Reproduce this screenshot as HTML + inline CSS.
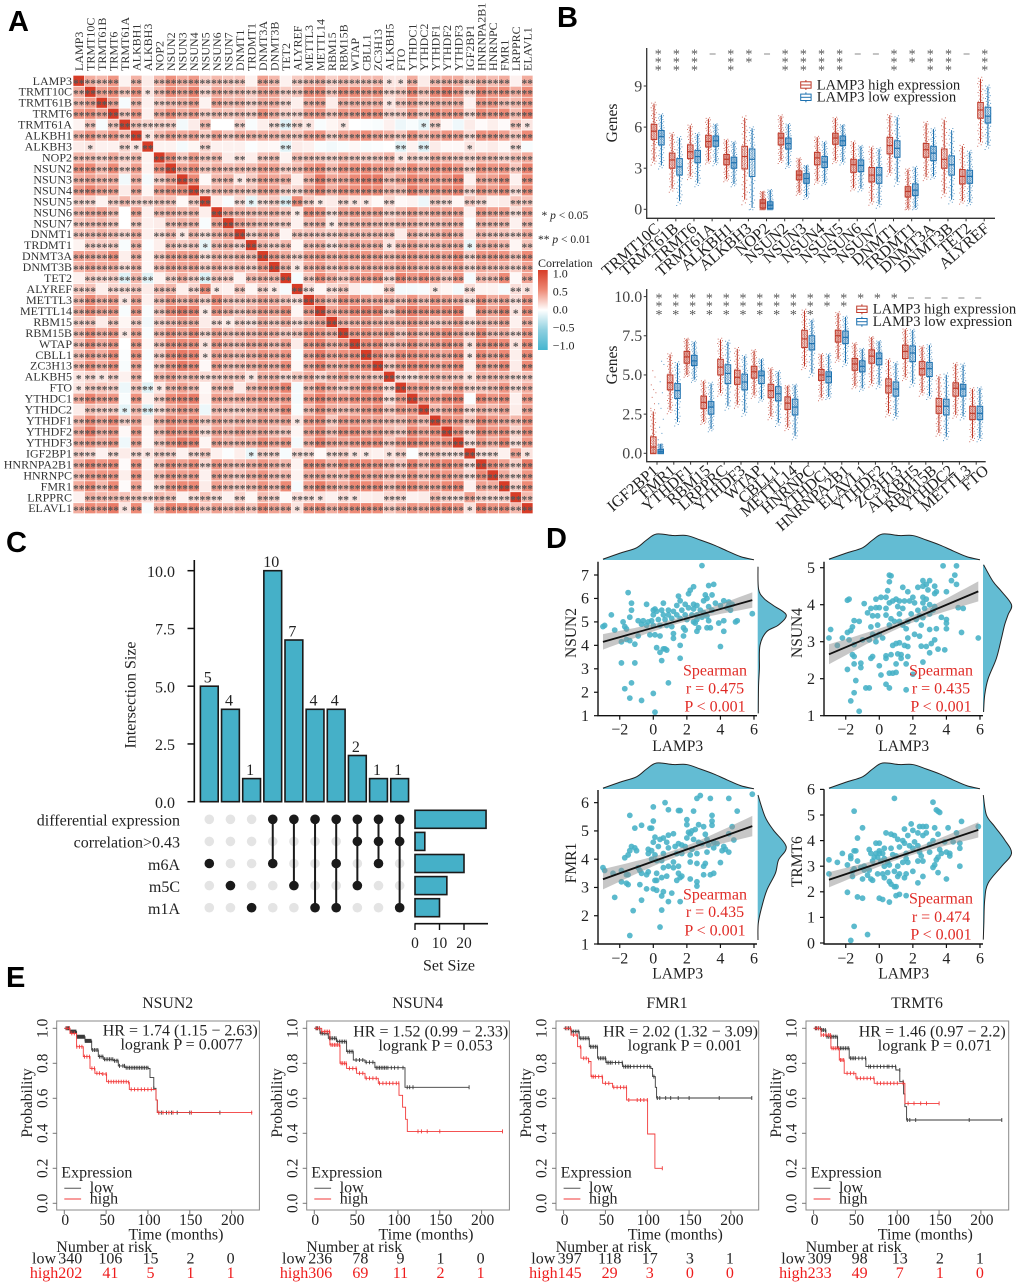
<!DOCTYPE html>
<html lang="en">
<head>
<meta charset="utf-8">
<title>LAMP3 correlation, expression, intersection, scatter and survival figure</title>
<style>
html,body{margin:0;padding:0;background:#fff}
svg{display:block;font-family:"Liberation Serif",serif;fill:#222}
.panel-letter{font-family:"Liberation Sans",sans-serif;font-weight:700;font-size:29px;fill:#000}
</style>
</head>
<body>
<svg id="fig" xmlns="http://www.w3.org/2000/svg" width="1020" height="1285" viewBox="0 0 1020 1285">
  <rect width="1020" height="1285" fill="#fff"/>
  <defs>
    <linearGradient id="corrGrad" x1="0" y1="0" x2="0" y2="1">
      <stop offset="0" stop-color="#d73c27"/><stop offset=".25" stop-color="#ee8a76"/>
      <stop offset=".5" stop-color="#ffffff"/><stop offset=".75" stop-color="#8fd0e0"/>
      <stop offset="1" stop-color="#45b5cf"/>
    </linearGradient>
  </defs>
  <text class="panel-letter" x="8" y="31">A</text>
  <text class="panel-letter" x="557" y="27">B</text>
  <text class="panel-letter" x="6" y="552">C</text>
  <text class="panel-letter" x="546" y="548">D</text>
  <text class="panel-letter" x="6" y="987">E</text>
  <g id="panelA"></g>
  <g id="panelB1"></g>
  <g id="panelB2"></g>
  <g id="panelC"></g>
  <g id="panelD"></g>
  <g id="panelE"></g>
</svg>

<script>
const NS = 'http://www.w3.org/2000/svg';
function add(parent, tag, attrs, txt) {
  const el = document.createElementNS(NS, tag);
  for (const k in attrs) el.setAttribute(k, attrs[k]);
  if (txt !== undefined) el.textContent = txt;
  parent.appendChild(el);
  return el;
}
function label(parent, x, yc, str, size, opts) {
  const o = opts || {};
  const a = {x: x, y: yc + 0.33 * size, 'font-size': size, 'text-anchor': o.anchor || 'middle'};
  if (o.fill) a.fill = o.fill;
  if (o.rot !== undefined) {
    a.x = 0; a.y = 0.33 * size;
    a.transform = 'translate(' + x + ',' + yc + ') rotate(' + o.rot + ')';
  }
  return add(parent, 'text', a, str);
}
function smoothPath(pts) {
  let d = '';
  for (let i = 0; i < pts.length - 1; i++) {
    const p0 = pts[Math.max(i - 1, 0)], p1 = pts[i], p2 = pts[i + 1], p3 = pts[Math.min(i + 2, pts.length - 1)];
    d += ' C' + (p1[0] + (p2[0] - p0[0]) / 6).toFixed(2) + ' ' + (p1[1] + (p2[1] - p0[1]) / 6).toFixed(2) + ' ' +
      (p2[0] - (p3[0] - p1[0]) / 6).toFixed(2) + ' ' + (p2[1] - (p3[1] - p1[1]) / 6).toFixed(2) + ' ' +
      p2[0].toFixed(2) + ' ' + p2[1].toFixed(2);
  }
  return d;
}
</script>

<script>
/* Panel A: correlation heatmap */
const corrGenes = ['LAMP3','TRMT10C','TRMT61B','TRMT6','TRMT61A','ALKBH1','ALKBH3','NOP2','NSUN2','NSUN3','NSUN4','NSUN5','NSUN6','NSUN7','DNMT1','TRDMT1','DNMT3A','DNMT3B','TET2','ALYREF','METTL3','METTL14','RBM15','RBM15B','WTAP','CBLL1','ZC3H13','ALKBH5','FTO','YTHDC1','YTHDC2','YTHDF1','YTHDF2','YTHDF3','IGF2BP1','HNRNPA2B1','HNRNPC','FMR1','LRPPRC','ELAVL1'];
/* lower triangle, correlation x 100, read by eye */
const corrLower = [
[100],
[35,100],
[30,42,100],
[45,50,40,100],
[5,25,-4,25,100],
[33,47,32,45,27,100],
[8,11,6,6,18,11,100],
[30,30,22,35,20,30,5,100],
[47,50,30,50,20,42,5,50,100],
[35,40,33,35,-6,35,-5,22,40,100],
[43,55,42,42,8,40,4,42,50,50,100],
[20,18,5,22,30,22,18,25,25,3,22,100],
[30,38,40,30,0,40,6,30,35,30,33,7,100],
[25,30,30,25,0,25,6,8,28,32,32,-3,40,100],
[25,30,32,28,18,35,6,15,30,10,30,15,33,40,100],
[5,22,20,22,-3,33,-2,7,28,22,25,-11,30,32,20,100],
[40,40,35,48,7,35,4,25,42,42,42,15,32,30,33,30,100],
[30,40,35,35,15,33,3,28,40,38,40,22,35,25,30,22,45,100],
[6,22,18,20,-15,30,-14,5,22,35,22,-16,25,22,5,30,35,32,100],
[22,25,7,18,16,25,8,28,30,7,18,50,9,6,25,4,20,10,-4,100],
[30,50,35,42,11,40,6,28,45,33,40,20,50,28,25,28,40,35,25,14,100],
[35,50,40,45,-3,45,-3,25,50,62,57,9,45,35,25,33,45,40,50,4,45,100],
[20,25,8,25,4,22,-6,20,30,38,35,8,15,9,20,14,35,25,35,15,30,40,100],
[30,50,35,45,10,40,-3,30,47,40,50,18,40,28,30,30,40,35,25,25,50,45,35,100],
[27,50,35,45,0,45,3,25,48,50,48,12,45,32,30,38,42,30,40,8,45,55,35,45,100],
[27,45,35,50,-2,48,-3,22,50,60,55,10,40,35,30,35,45,38,45,-3,40,60,40,47,50,100],
[30,48,35,48,-3,40,-2,25,45,60,50,3,42,30,30,35,42,35,48,3,38,58,35,40,50,55,100],
[11,18,11,20,6,33,0,30,40,30,33,15,22,25,25,11,32,32,18,22,35,20,30,40,28,32,25,100],
[11,25,25,22,-8,25,-14,10,32,40,30,3,30,30,8,30,40,40,55,-5,30,50,35,25,35,50,45,15,100],
[35,55,42,45,-3,47,5,22,50,55,60,5,42,35,35,40,45,40,45,-5,45,60,45,45,50,50,55,15,45,100],
[8,27,22,22,-12,30,-15,15,35,45,42,-8,30,25,22,28,38,30,50,-3,30,50,35,30,35,45,50,25,45,45,100],
[30,52,38,52,20,40,8,35,50,45,50,22,40,30,33,32,42,35,40,10,45,50,25,45,45,40,40,30,30,45,30,100],
[35,62,35,45,3,45,3,30,50,45,50,15,40,33,40,35,40,30,25,4,40,50,30,50,50,40,45,30,25,55,40,50,100],
[35,45,35,45,-7,40,3,25,45,60,55,4,40,33,33,35,50,40,45,-5,35,60,40,40,45,50,50,25,45,60,50,45,50,100],
[20,17,6,16,8,17,11,20,20,6,18,22,6,-2,7,-10,20,18,-4,15,15,3,15,20,12,9,6,12,20,-2,15,25,15,14,100],
[35,55,45,50,2,47,5,30,48,40,48,17,45,32,30,35,45,35,30,5,50,50,33,50,50,50,47,32,25,55,35,55,55,45,14,100],
[28,45,45,45,7,47,8,30,45,40,42,6,40,30,25,35,45,30,30,5,35,40,30,30,50,40,40,30,30,45,30,45,45,35,15,50,100],
[35,50,30,50,2,40,3,20,45,50,50,8,40,30,25,30,45,30,50,-4,40,58,40,35,50,50,52,30,45,50,40,40,50,55,6,40,35,100],
[6,35,30,30,25,25,15,28,25,6,15,25,15,6,18,4,28,20,3,14,14,11,6,14,12,7,8,16,16,6,8,30,20,15,40,20,18,20,100],
[35,50,45,60,11,50,-3,35,55,50,50,25,40,30,35,25,50,40,40,12,45,50,35,45,50,50,50,25,35,45,40,50,50,45,12,60,45,50,30,100]
];
const corrLegendTicks = [1, 0.5, 0, -0.5, -1];
const corrLegendLabels = ['1.0', '0.5', '0.0', '\u22120.5', '\u22121.0'];

(function () {
  const g = document.getElementById('panelA');
  const left = 73, top = 75.3, cw = 11.5, ch = 10.96;
  const mix = (a, b, t) => a.map((v, i) => Math.round(v + (b[i] - v) * t));
  function color(r) {
    const w = [255, 255, 255], p1 = [238, 138, 118], p2 = [215, 60, 39], n1 = [143, 208, 224], n2 = [69, 181, 207];
    const a = Math.abs(r);
    const c = r >= 0 ? (a < .5 ? mix(w, p1, a / .5) : mix(p1, p2, (a - .5) / .5))
                     : (a < .5 ? mix(w, n1, a / .5) : mix(n1, n2, (a - .5) / .5));
    return 'rgb(' + c.join(',') + ')';
  }
  const val = (i, j) => { const v = i >= j ? corrLower[i][j] : corrLower[j][i]; return (v === undefined ? 0 : v) / 100; };
  corrGenes.forEach((name, i) => {
    const rl = add(g, 'text', {x: left - 1, y: top + ch * i + ch / 2 + 4, 'font-size': 12, 'text-anchor': 'end', fill: '#333'}, name);
    
    
    const cl = add(g, 'text', {x: 0, y: 0, 'font-size': 12, fill: '#333', transform: 'translate(' + (left + cw * i + cw / 2 + 4) + ',71) rotate(-90)'}, name);
    
    
    corrGenes.forEach((n2, j) => {
      const r = val(i, j);
      const cell = add(g, 'rect', {x: left + cw * j + .35, y: top + ch * i + .35, width: cw - .7, height: ch - .7, fill: color(r)});
      
      
      const a = Math.abs(r);
      const stars = a >= .13 ? '**' : (a >= .09 ? '*' : '');
      if (stars) {
        const st = add(g, 'text', {x: left + cw * j + cw / 2, y: top + ch * i + ch / 2 + 6, 'font-size': 11.5, 'text-anchor': 'middle', fill: '#555', 'font-weight': 700}, stars);
        
        
      }
    });
  });
  const sigA = add(g, 'text', {x: 541.5, y: 219, 'font-size': 11.5});
  
  
  sigA.innerHTML = '* <tspan font-style="italic">p</tspan> &lt; 0.05';
  const sigB = add(g, 'text', {x: 538, y: 243, 'font-size': 11.5});
  
  
  sigB.innerHTML = '** <tspan font-style="italic">p</tspan> &lt; 0.01';
  const lt = add(g, 'text', {x: 538, y: 267, 'font-size': 12}, 'Correlation');
  
  
  const bar = add(g, 'rect', {x: 538, y: 270, width: 9.7, height: 80, fill: 'url(#corrGrad)'});
  
  
  corrLegendTicks.forEach((t, i) => {
    const y = 309.5 - t * 36;
    const l = add(g, 'text', {x: 552.7, y: y + 4, 'font-size': 12}, corrLegendLabels[i]);
    
    
  });
})();
</script>

<script>
/* Panel B: box plots. Each row is [lower whisker, q1, median, q3, upper whisker], read by eye. */
const boxGenesTop = ['TRMT10C','TRMT61B','TRMT6','TRMT61A','ALKBH1','ALKBH3','NOP2','NSUN2','NSUN3','NSUN4','NSUN5','NSUN6','NSUN7','DNMT1','TRDMT1','DNMT3A','DNMT3B','TET2','ALYREF'];
const boxSigTop = [3,3,3,0,3,2,0,3,3,3,3,0,0,3,2,3,3,0,3];
const boxHighTop = [[3.5,5.1,5.7,6.2,7.7],[1.5,3.0,3.6,4.1,5.5],[2.4,3.7,4.2,4.7,6.1],[3.5,4.55,4.95,5.4,6.6],[2.2,3.25,3.65,4.0,5.05],[.7,2.95,3.85,4.6,6.65],[0,.1,.45,.7,1.3],[3.55,4.7,5.2,5.55,6.8],[1.2,2.15,2.5,2.8,3.7],[2.05,3.25,3.75,4.15,5.25],[3.55,4.75,5.2,5.55,6.65],[1.55,2.7,3.25,3.65,4.9],[.55,2.0,2.5,3.05,4.5],[2.65,4.05,4.65,5.25,6.85],[.05,.9,1.3,1.65,2.9],[2.35,3.8,4.35,4.8,6.3],[1.15,3.0,3.65,4.4,6.5],[.6,1.85,2.4,2.9,4.6],[4.9,6.65,7.25,7.8,9.5]];
const boxLowTop = [[3.2,4.7,5.3,5.75,6.9],[.6,2.5,3.1,3.7,5.2],[1.9,3.4,3.85,4.3,5.5],[3.4,4.6,5.0,5.35,6.2],[1.85,3.0,3.4,3.8,4.9],[.1,2.4,3.65,4.4,5.9],[0,.05,.3,.55,1.4],[3.2,4.4,4.8,5.2,6.2],[.9,1.9,2.25,2.6,3.2],[1.95,3.05,3.45,3.85,4.9],[3.45,4.65,5.0,5.35,6.15],[1.5,2.75,3.2,3.6,4.6],[.35,1.9,2.5,3.05,4.4],[2.0,3.8,4.45,5.0,6.7],[.1,1.0,1.4,1.85,3.05],[2.4,3.55,4.1,4.6,5.85],[.7,2.5,3.25,3.9,5.75],[.5,1.9,2.4,2.85,4.2],[4.65,6.3,6.8,7.45,8.95]];
const boxTicksTop = [0,3,6,9];
const boxTickLabelsTop = ['0','3','6','9'];

const boxGenesBottom = ['IGF2BP1','FMR1','YTHDF1','RBM15','LRPPRC','YTHDF3','WTAP','CBLL1','METTL14','HNRNPC','YTHDC1','HNRNPA2B1','ELAVL1','YTHDF2','ZC3H13','ALKBH5','RBM15B','YTHDC2','METTL3','FTO'];
const boxSigBottom = [3,3,3,3,3,3,3,3,3,3,2,2,1,1,1,0,0,0,0,0];
const boxHighBottom = [[0,0,.4,1.05,2.65],[2.75,4.05,4.5,5.0,6.3],[5,5.75,6.15,6.5,7.3],[2.0,2.85,3.25,3.65,4.6],[3.85,5.0,5.5,6.0,7.25],[3.1,4.4,4.85,5.3,6.65],[3.7,4.8,5.2,5.55,6.55],[2.35,3.55,4.0,4.4,5.4],[1.65,2.8,3.2,3.6,4.3],[5.55,6.75,7.3,7.85,9.1],[3.55,4.65,5.0,5.35,6.3],[6.0,7.1,7.5,7.85,8.95],[4.3,5.3,5.7,6.05,7],[4.45,5.75,6.2,6.6,7.4],[2.55,3.85,4.3,4.75,5.95],[4.85,6.05,6.5,6.9,7.9],[3.85,5.0,5.4,5.85,6.8],[1.3,2.55,3.0,3.5,4.9],[2.45,3.65,4.15,4.5,5.7],[.95,2.15,2.55,3.0,4.1]];
const boxLowBottom = [[0,0,.1,.25,.6],[2.0,3.5,4.0,4.45,5.75],[4.7,5.6,5.9,6.25,7.1],[1.55,2.5,2.95,3.3,4.45],[3.0,4.45,5.1,5.65,7.1],[2.6,4.05,4.55,5.05,6.2],[3.45,4.45,4.95,5.25,6.0],[1.95,3.35,3.8,4.25,5.2],[1.1,2.45,2.95,3.45,4.35],[5.1,6.6,7.0,7.5,8.5],[3.6,4.5,4.9,5.2,6.3],[5.75,7.0,7.4,7.8,8.7],[4.15,5.2,5.55,5.9,6.65],[4.35,5.65,6.05,6.4,7.15],[2.35,3.65,4.1,4.55,5.75],[4.45,5.85,6.4,6.85,7.85],[3.65,4.9,5.4,5.8,6.9],[1.05,2.45,3.0,3.45,5.0],[2.35,3.65,4.1,4.4,5.65],[.95,2.15,2.55,3.0,4.15]];
const boxTicksBottom = [0,2.5,5,7.5,10];
const boxTickLabelsBottom = ['0.0','2.5','5.0','7.5','10.0'];
/* individually visible far-out samples for the first bottom gene */
const igfOutliersHigh = [2.9,3.2,3.6,3.9,4.1,4.4,4.9,5.3];
const igfOutliersLow = [.9,1.3,1.7,2.2,2.9,3.2,3.9,4.6,5.7,5.9];

function drawBoxPanel(g, c) {
  const yS = v => c.y0 - c.k * v;
  const xS = i => c.x0 + c.dx * i;
  const colors = ['#bf3b2b', '#1f72b0'];
  const ax = add(g, 'path', {d: 'M' + c.axisX + ' ' + c.axisTop + ' V' + c.axisY + ' H' + c.axisRight, fill: 'none', stroke: '#333', 'stroke-width': 1.3});
  
  
  c.ticks.forEach((t, i) => {
    const tk = add(g, 'line', {x1: c.axisX - 3, x2: c.axisX, y1: yS(t), y2: yS(t), stroke: '#333'});
    
    
    const tl = label(g, c.axisX - 4.5, yS(t), c.tickLabels[i], 16, {anchor: 'end', fill: '#444'});
    
    
  });
  const yt = label(g, 611.7, c.titleY, 'Genes', 15.5, {rot: -90});
  
  
  c.genes.forEach((name, i) => {
    const x = xS(i);
    const tk = add(g, 'line', {x1: x, x2: x, y1: c.axisY, y2: c.axisY + 3, stroke: '#333'});
    
    
    const lx = c.labelX0 + c.labelDx * i;
    const tl = add(g, 'text', {x: 0, y: 0, 'font-size': 16, 'text-anchor': 'end', fill: '#222', transform: 'translate(' + lx + ',' + c.labelY + ') rotate(-41)'}, name);
    
    
    const n = c.sig[i];
    if (n === 0) {
      const dash = add(g, 'line', {x1: x + c.sigOff - 3, x2: x + c.sigOff + 3, y1: c.sigY[0] + 2, y2: c.sigY[0] + 2, stroke: '#888', 'stroke-width': 1});
      
      
    }
    for (let s = 0; s < n; s++) {
      const st = add(g, 'text', {x: x + c.sigOff, y: c.sigY[s] + 6.5, 'font-size': 14, 'text-anchor': 'middle', fill: '#555'}, '*');
      
      
    }
    [c.high[i], c.low[i]].forEach((st, gi) => {
      const bx = x + (gi === 0 ? -3.7 : 3.7);
      const col = colors[gi];
      const [lo, q1, med, q3, hi] = st;
      const whisk = add(g, 'line', {x1: bx, x2: bx, y1: yS(lo), y2: yS(hi), stroke: col, 'stroke-width': 1});
      
      
      const box = add(g, 'rect', {x: bx - 2.8, y: yS(q3), width: 5.6, height: Math.max(.5, yS(q1) - yS(q3)), fill: '#fff', 'fill-opacity': .55, stroke: col, 'stroke-width': 1});
      
      
      const medL = add(g, 'line', {x1: bx - 2.8, x2: bx + 2.8, y1: yS(med), y2: yS(med), stroke: col, 'stroke-width': 1.2});
      
      
      /* Sample cloud: visual texture spread evenly between the box statistics. It is not
         per-sample data, since individual samples cannot be read from the picture. */
      const N = 96, stops = [lo - (q1 - lo) * .18, lo, q1, med, q3, hi, hi + (hi - q3) * .12], ps = [0, .03, .25, .5, .75, .97, 1];
      let d = '';
      for (let k = 0; k < N; k++) {
        const p = (k + .5) / N;
        let m = 0;
        while (m < ps.length - 2 && p > ps[m + 1]) m++;
        const v = Math.max(0, stops[m] + (stops[m + 1] - stops[m]) * (p - ps[m]) / (ps[m + 1] - ps[m]));
        const jit = ((k * .618034) % 1 - .5) * 5.6;
        d += 'M' + (bx + jit - .5).toFixed(1) + ' ' + yS(v).toFixed(1) + 'h1v1h-1z';
      }
      if (i === 0 && c.outliers) c.outliers[gi].forEach((v, k) => {
        d += 'M' + (bx + ((k * .618034) % 1 - .5) * 6).toFixed(1) + ' ' + yS(v).toFixed(1) + 'h1v1h-1z';
      });
      const cloud = add(g, 'path', {d: d, fill: col, 'fill-opacity': .72});
      
      
    });
  });
  ['LAMP3 high expression', 'LAMP3 low expression'].forEach((t, i) => {
    const ky = c.legendY[i], col = colors[i];
    const key = add(g, 'g', {});
    
    
    add(key, 'line', {x1: c.legendX + 5.2, x2: c.legendX + 5.2, y1: ky - 5, y2: ky + 5, stroke: col});
    add(key, 'rect', {x: c.legendX, y: ky - 3.2, width: 10.4, height: 6.4, fill: '#fff', stroke: col, 'stroke-width': 1});
    add(key, 'line', {x1: c.legendX, x2: c.legendX + 10.4, y1: ky, y2: ky, stroke: col});
    const lt = label(g, c.legendX + 16, ky - .5, t, 14.6, {anchor: 'start'});
    
    
  });
}
drawBoxPanel(document.getElementById('panelB1'), {
  genes: boxGenesTop, sig: boxSigTop, high: boxHighTop, low: boxLowTop, ticks: boxTicksTop, tickLabels: boxTickLabelsTop,
  y0: 209.3, k: 13.7, x0: 657.7, dx: 18.14, axisX: 646.7, axisTop: 48, axisY: 218.3, axisRight: 995, titleY: 123,
  labelX0: 661, labelDx: 18.3, labelY: 230, sigOff: .5, sigY: [52, 60, 68], legendX: 800.7, legendY: [85, 97.3]
});
drawBoxPanel(document.getElementById('panelB2'), {
  genes: boxGenesBottom, sig: boxSigBottom, high: boxHighBottom, low: boxLowBottom, ticks: boxTicksBottom, tickLabels: boxTickLabelsBottom,
  outliers: [igfOutliersHigh, igfOutliersLow],
  y0: 453.3, k: 15.67, x0: 657, dx: 16.8, axisX: 646.7, axisTop: 289, axisY: 461.7, axisRight: 985.7, titleY: 365,
  labelX0: 659, labelDx: 17.4, labelY: 472, sigOff: 2, sigY: [296, 304, 312.3], legendX: 856.7, legendY: [309.3, 321.7]
});
</script>

<script>
/* Panel C: UpSet plot */
const upsetSizes = [5,4,1,10,7,4,4,2,1,1];
const upsetMembers = [[2],[3],[4],[0,2],[0,3],[0,4],[0,2,4],[0,1,3],[0,1,2],[0,1,4]];
const setNames = ['differential expression','correlation>0.43','m6A','m5C','m1A'];
const setSizes = [29,4,20,13,10];
const upsetTicks = [0,2.5,5,7.5,10];
const upsetTickLabels = ['0.0','2.5','5.0','7.5','10.0'];
const setSizeTicks = [0,10,20];

(function () {
  const g = document.getElementById('panelC');
  const yS = v => 801.7 - 23.1 * v, xS = i => 209.3 + 21.15 * i, rowY = r => 819.3 + 22.1 * r, sS = v => 415 + 2.45 * v;
  const teal = '#45b0c8', dark = '#1a1a1a';
  const ax = add(g, 'line', {x1: 194.3, x2: 194.3, y1: 560, y2: 802.5, stroke: '#111', 'stroke-width': 1.6});
  
  
  upsetTicks.forEach((t, i) => {
    const tk = add(g, 'line', {x1: 187.5, x2: 194.3, y1: yS(t), y2: yS(t), stroke: '#111', 'stroke-width': 1.5});
    
    
    const tl = label(g, 175, yS(t) + 1, upsetTickLabels[i], 16, {anchor: 'end'});
    
    
  });
  const yt = label(g, 130, 695, 'Intersection Size', 16, {rot: -90});
  
  
  upsetSizes.forEach((v, i) => {
    const b = add(g, 'rect', {x: xS(i) - 8.9, y: yS(v), width: 17.8, height: yS(0) - yS(v), fill: teal, stroke: dark, 'stroke-width': 1.6});
    
    
    const t = label(g, xS(i) - 1.5, yS(v) - 9, String(v), 16);
    
    
  });
  setNames.forEach((n, r) => {
    const t = label(g, 180, rowY(r) + 1, n, 16, {anchor: 'end'});
    
    
    upsetSizes.forEach((v, i) => {
      const d = add(g, 'circle', {cx: xS(i), cy: rowY(r), r: 4.8, fill: '#e4e4e4'});
      
      
    });
    const b = add(g, 'rect', {x: sS(0), y: rowY(r) - 9, width: sS(setSizes[r]) - sS(0), height: 18, fill: teal, stroke: dark, 'stroke-width': 1.6});
    
    
  });
  upsetMembers.forEach((mem, i) => {
    const a = Math.min.apply(null, mem), z = Math.max.apply(null, mem);
    if (z > a) {
      const l = add(g, 'line', {x1: xS(i), x2: xS(i), y1: rowY(a), y2: rowY(z), stroke: dark, 'stroke-width': 2});
      
      
    }
    mem.forEach(r => {
      const d = add(g, 'circle', {cx: xS(i), cy: rowY(r), r: 4.8, fill: dark});
      
      
    });
  });
  const sax = add(g, 'line', {x1: 414.5, x2: 488, y1: 923.7, y2: 923.7, stroke: '#111', 'stroke-width': 1.6});
  
  
  setSizeTicks.forEach(t => {
    const tk = add(g, 'line', {x1: sS(t), x2: sS(t), y1: 923.7, y2: 930, stroke: '#111', 'stroke-width': 1.4});
    
    
    const tl = label(g, sS(t), 943, String(t), 15.5);
    
    
  });
  const st = label(g, 449, 965, 'Set Size', 16);
  
  
})();
</script>

<script>
/* Panel D: scatter plots. Points are [LAMP3, gene] read by eye. */
const nsun2Points = [[2.9,7.4],[3.6,6.6],[3.3,6.55],[2.4,6.5],[2.2,6.35],[2.1,6.2],[-1.5,6.25],[3.1,6.15],[3.5,6.15],[3.2,6.0],[1.5,6.1],[1.6,5.9],[3.0,5.9],[4.2,5.9],[4.5,5.85],[3.7,5.8],[-1.3,5.8],[-.4,5.75],[.6,5.8],[1.4,5.7],[2.4,5.75],[1.9,5.75],[2.6,5.7],[4.0,5.7],[4.7,5.75],[4.5,5.7],[3.3,5.65],[.1,5.55],[-1.3,5.5],[-2.5,5.3],[0,5.5],[.2,5.45],[.5,5.5],[.9,5.5],[1.2,5.45],[1.7,5.5],[2.1,5.6],[2.4,5.55],[2.8,5.5],[3.0,5.4],[3.5,5.5],[4.4,5.6],[4.6,5.5],[5.9,5.35],[-1.4,5.2],[0,5.3],[.6,5.3],[.9,5.3],[1.4,5.3],[1.9,5.3],[2.3,5.3],[2.6,5.3],[2.9,5.2],[3.2,5.25],[-.9,5.05],[-.6,5.05],[-.3,5.0],[-.1,5.05],[.3,5.1],[.7,5.1],[1.1,5.15],[1.6,5.15],[2.0,5.1],[2.4,5.0],[2.6,5.1],[3.3,5.05],[3.9,4.95],[4.2,5.05],[4.9,5.0],[5.0,5.05],[-1.8,5.0],[-1.7,4.8],[-1.6,4.7],[-2.9,4.85],[-3.0,4.8],[-.7,4.9],[-.4,4.85],[0,4.85],[.4,4.85],[.8,4.85],[1.1,4.8],[1.8,4.75],[2.5,4.95],[2.7,4.75],[3.2,4.75],[3.4,4.75],[4.2,4.6],[-2.3,4.65],[-1.9,4.15],[-1.6,4.25],[-1.4,4.2],[-1.1,4.05],[-.9,4.4],[-.2,4.45],[.1,4.45],[.4,4.4],[1.2,4.5],[1.2,4.3],[1.8,4.4],[1.9,4.65],[2.6,4.6],[.2,3.9],[.4,3.7],[.6,3.85],[.7,3.85],[.8,3.8],[1.6,4.0],[4.0,3.95],[1.6,3.45],[.5,3.35],[-1.9,3.25],[-1.1,3.25],[-1.3,2.4],[.9,2.4],[-1.7,2.15],[0,1.95],[-1.4,1.75],[-.7,1.65],[.1,1.15]];
const nsun4Points = [[3.8,5.05],[4.6,5.05],[.6,4.8],[.7,4.78],[4.5,4.8],[.6,4.62],[4.3,4.65],[2.6,4.65],[3.0,4.65],[2.8,4.55],[4.6,4.55],[1.4,4.47],[2.3,4.47],[2.6,4.5],[3.3,4.5],[.5,4.38],[1.7,4.35],[2.9,4.4],[3.4,4.35],[4.0,4.35],[3.3,4.3],[-.2,4.15],[.1,4.2],[.4,4.2],[1.0,4.15],[1.5,4.1],[2.0,4.2],[2.6,4.2],[2.8,4.15],[.8,4.1],[1.2,4.1],[-1.9,4.12],[-1.8,4.15],[-.9,4.03],[.6,4.05],[1.8,4.1],[2.1,4.05],[2.6,4.05],[3.0,4.0],[3.3,3.95],[-.5,3.9],[-.2,3.92],[0,3.92],[.4,3.9],[1.1,3.95],[1.4,3.9],[2.3,3.85],[2.7,3.9],[3.2,3.85],[4.7,3.92],[5.0,3.9],[-.7,3.78],[-.4,3.7],[-.1,3.7],[.4,3.72],[.7,3.62],[1.2,3.75],[1.9,3.75],[2.4,3.7],[3.0,3.75],[3.7,3.66],[4.0,3.6],[-1.2,3.55],[-1.5,3.57],[.6,3.45],[.9,3.55],[1.2,3.55],[1.7,3.55],[2.2,3.6],[2.6,3.65],[4.0,3.5],[-1.6,3.4],[-.5,3.4],[-.1,3.45],[1.4,3.45],[1.6,3.35],[2.5,3.45],[3.4,3.35],[3.0,3.33],[4.0,3.35],[4.9,3.25],[-3.0,3.1],[-2.9,3.33],[-2.2,3.1],[-1.9,3.25],[-1.7,3.3],[-1.0,3.05],[-.6,3.05],[-.4,3.2],[-.2,3.15],[0,3.2],[.2,3.1],[1.7,3.1],[2.1,3.2],[2.4,3.15],[3.3,3.05],[3.1,2.95],[5.9,3.1],[-2.5,2.9],[-1.8,3.05],[-1.5,2.92],[-.2,3.0],[.8,2.9],[1.0,2.95],[1.2,2.97],[1.5,2.9],[1.7,2.87],[2.5,2.88],[2.8,2.87],[3.0,2.7],[3.5,2.8],[3.9,2.78],[-1.6,2.65],[-1.5,2.6],[-.4,2.6],[.4,2.62],[.7,2.65],[1.1,2.67],[1.3,2.65],[1.7,2.6],[-.5,2.55],[.4,2.55],[1.3,2.55],[-1.5,2.4],[-1.1,2.42],[-1.1,2.3],[0,2.35],[1.0,2.4],[1.6,2.4],[2.6,2.45],[-1.9,2.25],[.1,2.1],[.6,2.15],[.8,2.15],[1.0,2.17],[2.0,2.12],[-1.4,1.95],[-.8,1.75],[-.6,1.75],[.4,1.85],[.6,1.75],[1.6,1.7],[-1.5,1.62],[-1.7,1.4],[-1.2,1.12]];
const fmr1Points = [[5.9,6.3],[2.8,6.25],[2.6,6.15],[3.4,6.15],[4.5,6.15],[.7,6.0],[0,5.85],[.9,5.75],[1.5,5.72],[1.6,5.72],[2.4,5.7],[5.0,5.7],[-1.4,5.55],[3.5,5.55],[0,5.35],[3.5,5.35],[2.0,5.4],[-.7,5.2],[2.0,5.22],[2.7,5.22],[3.0,5.15],[3.5,5.2],[-1.1,5.1],[-.2,5.1],[-.1,5.1],[4.7,5.15],[2.3,5.0],[2.5,5.05],[2.1,4.95],[.9,4.85],[1.2,4.9],[2.2,4.9],[3.1,4.88],[4.5,4.9],[4.8,4.68],[.1,4.78],[.4,4.7],[.6,4.75],[.8,4.6],[2.0,4.75],[2.4,4.7],[2.7,4.6],[3.2,4.7],[3.6,4.6],[-1.3,4.45],[-1.1,4.4],[0,4.6],[1.5,4.55],[1.7,4.5],[2.9,4.55],[3.3,4.5],[3.8,4.55],[4.2,4.45],[-1.4,4.3],[-1.0,4.3],[-.3,4.35],[-.1,4.3],[.3,4.45],[.9,4.4],[1.3,4.45],[1.9,4.45],[2.3,4.35],[3.6,4.4],[4.1,4.3],[4.3,4.35],[4.5,4.25],[-1.7,4.05],[-1.5,4.15],[-.3,4.2],[.1,4.15],[.6,4.2],[1.4,4.2],[1.7,4.2],[2.2,4.15],[2.6,4.2],[3.2,4.25],[-.1,4.0],[.2,3.95],[.5,3.95],[1.2,3.9],[2.2,3.9],[2.6,3.85],[3.1,3.85],[4.0,3.88],[-.9,3.7],[-.8,3.6],[.6,3.7],[.9,3.75],[1.2,3.7],[1.5,3.75],[3.0,3.75],[-3.0,3.7],[-2.9,3.6],[-2.4,3.5],[-1.9,3.6],[-1.6,3.45],[-1.5,3.45],[-.7,3.5],[-.4,3.45],[-.3,3.55],[.2,3.5],[.5,3.35],[.8,3.4],[1.5,3.5],[1.6,3.35],[1.7,3.4],[3.0,3.45],[3.4,3.45],[3.6,3.5],[.2,3.25],[.1,3.25],[1.4,3.25],[2.2,3.3],[2.6,3.2],[-1.9,3.2],[-1.6,3.15],[-1.5,3.1],[-.8,3.1],[2.6,3.05],[-.4,2.95],[0,2.95],[.2,2.9],[.6,2.85],[1.1,2.8],[.5,2.7],[.9,2.5],[1.6,2.5],[-2.3,2.65],[-.7,2.55],[.5,2.2],[-1.2,2.18],[.4,1.6],[-1.4,1.3]];
const trmt6Points = [[.9,5.65],[3.2,5.5],[3.4,5.2],[3.5,5.15],[3.6,5.1],[-1.5,5.15],[4.9,4.75],[5.9,4.55],[-1.0,4.5],[1.9,4.65],[2.4,4.55],[2.6,4.55],[2.8,4.55],[1.5,4.45],[2.0,4.4],[3.3,4.5],[4.1,4.5],[2.3,4.3],[2.8,4.3],[.4,4.3],[.7,4.25],[.9,4.2],[1.1,4.05],[1.7,4.2],[2.6,4.2],[3.5,4.25],[4.6,4.3],[-1.3,4.1],[3.2,4.0],[1.4,4.0],[0,3.9],[-.2,3.9],[1.5,3.9],[2.1,3.95],[3.9,3.95],[4.4,3.95],[4.8,3.9],[1.2,3.75],[1.8,3.8],[2.3,3.8],[3.0,3.85],[4.8,3.7],[-.6,3.65],[0,3.6],[.3,3.7],[.7,3.7],[-1.4,3.6],[-1.5,3.6],[2.0,3.7],[3.6,3.65],[-2.2,3.5],[-1.7,3.4],[-.5,3.5],[-.2,3.5],[0,3.5],[.2,3.5],[.8,3.45],[1.6,3.5],[2.4,3.55],[3.0,3.55],[3.7,3.5],[4.0,3.55],[4.2,3.5],[-3.0,3.25],[-1.7,3.3],[-.3,3.35],[-.1,3.35],[.3,3.3],[1.0,3.4],[1.6,3.3],[2.5,3.4],[4.2,3.4],[3.5,3.35],[-2.5,3.15],[-1.9,3.05],[-1.3,3.2],[-.9,3.0],[-.4,3.2],[.1,3.2],[.5,3.15],[1.4,3.15],[1.7,3.15],[2.3,3.2],[2.6,3.2],[3.4,3.25],[-1.5,2.9],[-1.1,2.95],[.3,3.0],[.6,3.05],[1.1,3.0],[3.3,3.05],[3.2,2.95],[4.8,3.0],[-3.0,2.7],[-1.6,2.8],[-.9,2.85],[-.6,2.85],[.9,2.8],[2.0,2.8],[3.5,2.75],[-1.6,2.6],[-.7,2.65],[-.1,2.7],[.2,2.7],[.5,2.75],[1.2,2.7],[1.6,2.7],[-1.0,2.5],[-.5,2.5],[-.4,2.45],[.3,2.55],[.6,2.4],[1.1,2.6],[1.5,2.55],[2.6,2.6],[4.0,2.5],[.7,2.3],[.9,2.2],[1.0,2.2],[2.3,2.35],[-1.9,1.98],[1.2,1.9],[1.6,1.85],[1.0,1.85],[-1.3,1.8],[-1.0,1.75],[0,1.75],[.2,1.7],[.6,1.6],[-1.5,.65],[-.7,.33],[-1.7,.1]];
const lamp3DensityX = [-3,-2,-1,-.4,.2,1.2,2,2.8,3.6,4.4,5.2,6];
const lamp3DensityH = [.03,.26,.47,.77,1,.94,.94,.77,.58,.35,.13,.01];
const nsun2DensityY = [1.1,2.3,3,4,4.58,4.87,5.3,5.7,6,6.4,7.35];
const nsun2DensityH = [.02,.03,.06,.08,.31,.73,1,.55,.22,.03,.01];
const nsun4DensityY = [5.08,4.63,4.36,4,3.73,3.46,3.1,2.55,2,1.56,1.1];
const nsun4DensityH = [.02,.35,.65,1,.88,.76,.65,.47,.18,.06,.02];
const fmr1DensityY = [6.27,5.5,5.03,4.44,3.97,3.5,2.9,2.3,1.73,1.14];
const fmr1DensityH = [.01,.26,.55,1,.73,.62,.32,.14,.02,.01];
const trmt6DensityY = [5.78,5,4.55,4.03,3.5,2.99,2.34,1.69,.78,.13];
const trmt6DensityH = [.01,.12,.41,.76,1,.65,.18,.06,.03,.01];
const scatterXTicks = [-2,0,2,4,6];
const scatterXTickLabels = ['\u22122','0','2','4','6'];
const nsun2YTicks = [1,2,3,4,5,6,7];
const nsun4YTicks = [1,2,3,4,5];
const fmr1YTicks = [1,2,3,4,5,6];
const trmt6YTicks = [0,1,2,3,4,5,6];
const nsun2Fit = [4.15,5.93];
const nsun4Fit = [2.66,4.36];
const fmr1Fit = [3.29,5.17];
const trmt6Fit = [2.47,4.42];
const fitXRange = [-3,5.9];
const nsun2Band = [.33,.12];
const nsun4Band = [.27,.09];
const fmr1Band = [.36,.13];
const trmt6Band = [.3,.11];
const nsun2Stats = ['Spearman','r = 0.475','P < 0.001'];
const nsun4Stats = ['Spearman','r = 0.435','P < 0.001'];
const fmr1Stats = ['Spearman','r = 0.435','P < 0.001'];
const trmt6Stats = ['Spearman','r = 0.474','P < 0.001'];

function drawScatter(g, c) {
  const xS = v => c.x0 + 16.78 * v;
  const yS = v => c.yBase - c.yk * (v - c.yMin);
  const topPts = lamp3DensityX.map((x, i) => [xS(x), c.topBase - 26 * lamp3DensityH[i]]);
  const fill = '#63bcd3';
  const tf = add(g, 'path', {d: 'M' + topPts[0][0] + ' ' + c.topBase + ' L' + topPts[0][0] + ' ' + topPts[0][1] + smoothPath(topPts) + ' V' + c.topBase + ' Z', fill: fill});
  
  
  const tl = add(g, 'path', {d: 'M' + topPts[0][0] + ' ' + topPts[0][1] + smoothPath(topPts), fill: 'none', stroke: '#222', 'stroke-width': 1});
  
  
  const sidePts = c.densY.map((v, i) => [c.sideBase + 28.5 * c.densH[i], yS(v)]);
  const sf = add(g, 'path', {d: 'M' + c.sideBase + ' ' + sidePts[0][1] + ' L' + sidePts[0][0] + ' ' + sidePts[0][1] + smoothPath(sidePts) + ' H' + c.sideBase + ' Z', fill: fill});
  
  
  const sl = add(g, 'path', {d: 'M' + sidePts[0][0] + ' ' + sidePts[0][1] + smoothPath(sidePts), fill: 'none', stroke: '#222', 'stroke-width': 1});
  
  
  c.points.forEach(p => {
    const d = add(g, 'circle', {cx: xS(p[0]), cy: yS(p[1]), r: 2.9, fill: '#45b1c6', 'fill-opacity': .88});
    
    
  });
  const x0 = fitXRange[0], x1 = fitXRange[1], xm = (x0 + x1) / 2;
  const fitY = x => c.fit[0] + (c.fit[1] - c.fit[0]) * (x - x0) / (x1 - x0);
  const half = x => { const u = (x - xm) / (x1 - xm); return Math.sqrt(c.band[1] * c.band[1] + (c.band[0] * c.band[0] - c.band[1] * c.band[1]) * u * u); };
  let up = [], dn = [];
  for (let k = 0; k <= 24; k++) {
    const x = x0 + (x1 - x0) * k / 24;
    up.push(xS(x).toFixed(1) + ' ' + yS(fitY(x) + half(x)).toFixed(1));
    dn.unshift(xS(x).toFixed(1) + ' ' + yS(fitY(x) - half(x)).toFixed(1));
  }
  const band = add(g, 'path', {d: 'M' + up.join(' L') + ' L' + dn.join(' L') + ' Z', fill: '#8f8f8f', 'fill-opacity': .5});
  
  
  const fit = add(g, 'line', {x1: xS(x0), y1: yS(c.fit[0]), x2: xS(x1), y2: yS(c.fit[1]), stroke: '#111', 'stroke-width': 1.8});
  
  
  const ax = add(g, 'path', {d: 'M' + c.left + ' ' + c.axisTop + ' V' + c.axisBottom + ' H' + (c.x0 + 16.78 * 6 + 3), fill: 'none', stroke: '#111', 'stroke-width': 1.4});
  
  
  c.yTicks.forEach(t => {
    const tk = add(g, 'line', {x1: c.left - 4, x2: c.left, y1: yS(t), y2: yS(t), stroke: '#111', 'stroke-width': 1.2});
    
    
    const l = label(g, c.left - 9, yS(t), String(t), 16, {anchor: 'end'});
    
    
  });
  scatterXTicks.forEach((t, i) => {
    const tk = add(g, 'line', {x1: xS(t), x2: xS(t), y1: c.axisBottom, y2: c.axisBottom + 4, stroke: '#111', 'stroke-width': 1.2});
    
    
    const l = label(g, xS(t), c.tickY, scatterXTickLabels[i], 16);
    
    
  });
  const xt = label(g, c.x0 + 24.4, c.xTitleY, 'LAMP3', 15.5);
  
  
  const yt = label(g, c.left - 27.3, c.yTitleY, c.gene, 15.5, {rot: -90});
  
  
  c.stats.forEach((s, i) => {
    const t = label(g, c.statX, c.statY[i], s, 16, {fill: '#e02b26'});
    
    
  });
}
(function () {
  const g = document.getElementById('panelD');
  drawScatter(g, {gene: 'NSUN2', points: nsun2Points, fit: nsun2Fit, band: nsun2Band, densY: nsun2DensityY, densH: nsun2DensityH, yTicks: nsun2YTicks, stats: nsun2Stats,
    left: 598, x0: 653.3, yBase: 715.7, yMin: 1, yk: 23.45, axisTop: 561.7, axisBottom: 715.7, topBase: 560, sideBase: 757.7, tickY: 729, xTitleY: 745.7, yTitleY: 633, statX: 715, statY: [670, 688.3, 706]});
  drawScatter(g, {gene: 'NSUN4', points: nsun4Points, fit: nsun4Fit, band: nsun4Band, densY: nsun4DensityY, densH: nsun4DensityH, yTicks: nsun4YTicks, stats: nsun4Stats,
    left: 824, x0: 879.3, yBase: 715.7, yMin: 1, yk: 37, axisTop: 561.7, axisBottom: 715.7, topBase: 560, sideBase: 983, tickY: 729, xTitleY: 745.7, yTitleY: 633, statX: 941, statY: [670, 688.3, 706]});
  drawScatter(g, {gene: 'FMR1', points: fmr1Points, fit: fmr1Fit, band: fmr1Band, densY: fmr1DensityY, densH: fmr1DensityH, yTicks: fmr1YTicks, stats: fmr1Stats,
    left: 598, x0: 653.3, yBase: 944, yMin: 1, yk: 28.27, axisTop: 790, axisBottom: 944, topBase: 789, sideBase: 757.7, tickY: 958, xTitleY: 973.3, yTitleY: 863, statX: 715, statY: [894, 911.7, 930]});
  drawScatter(g, {gene: 'TRMT6', points: trmt6Points, fit: trmt6Fit, band: trmt6Band, densY: trmt6DensityY, densH: trmt6DensityH, yTicks: trmt6YTicks, stats: trmt6Stats,
    left: 824, x0: 879.3, yBase: 943, yMin: 0, yk: 25.6, axisTop: 789.3, axisBottom: 944, topBase: 789, sideBase: 983, tickY: 958, xTitleY: 973.3, yTitleY: 861.7, statX: 941, statY: [898.3, 916.7, 934.3]});
})();
</script>

<script>
/* Panel E: Kaplan-Meier curves. Each pair of arrays holds months and the survival level reached then. */
const kmTimeTicks = [0,50,100,150,200];
const kmProbTicks = [0,.2,.4,.6,.8,1];
const kmProbLabels = ['0.0','0.2','0.4','0.6','0.8','1.0'];
const nsun2LowT = [6.8,14.7,24.7,32.7,40.6,46.6,58.6,64.6,72.5,100.4,102.4,107,109.6,111.2,186];
const nsun2LowS = [.981,.952,.928,.876,.838,.823,.815,.785,.775,.771,.718,.657,.59,.518,.518];
const nsun2HighT = [6.8,14.7,22.7,30.7,36.6,44.6,50.6,76.5,77.7,109.6,111.2,224.7];
const nsun2HighS = [.971,.895,.838,.771,.743,.739,.695,.691,.651,.59,.518,.518];
const nsun2LowCensor = [2,4,5,6,7,8,9,10,11,12,13,14,15,16,17,18,19,20,21,22,23,24,25,26,27,28,29,30,31,32,34,36,38,40,42,44,46,48,50,52,54,56,58,60,62,64,66,70,72,74,76,78,80,82,84,86,88,90,92,94,96,98,100,107,113,116,122,128,135,150,186];
const nsun2HighCensor = [3,6,9,12,15,18,21,24,27,30,33,36,39,42,46,50,53,56,59,62,65,68,71,74,77,80,84,88,92,96,100,104,113,118,125,130,152,224];
const nsun4LowT = [6.8,16.7,26.7,38.6,46.6,60.6,72.5,108.4,185];
const nsun4LowS = [.971,.943,.924,.867,.819,.806,.775,.663,.663];
const nsun4HighT = [8.8,18.7,30.7,38.6,50.6,60.6,76.5,101.2,105.6,109.2,111.2,225];
const nsun4HighS = [.981,.905,.8,.771,.743,.714,.686,.617,.549,.48,.411,.411];
const nsun4LowCensor = [2,4,6,8,10,12,14,16,18,20,22,24,26,28,30,32,34,36,38,40,42,44,46,50,54,58,62,66,70,74,76,78,80,82,84,86,88,92,96,100,106,111,114,118,185];
const nsun4HighCensor = [3,6,9,12,14,16,18,20,22,24,26,28,30,32,34,36,38,42,46,50,54,58,62,66,70,74,78,82,86,90,94,98,101,124,128,135,150,225];
const fmr1LowT = [8.8,18.7,30.7,40.6,50.6,70.5,104.4,106.4,109.6,111.2,225];
const fmr1LowS = [.981,.943,.895,.829,.804,.781,.771,.724,.663,.602,.602];
const fmr1HighT = [8.8,16.7,20.7,29.9,32.7,46.6,58.6,75.3,100.4,109.2,118.3];
const fmr1HighS = [.962,.895,.829,.81,.724,.686,.663,.59,.396,.2,.2];
const fmr1LowCensor = [2,4,6,8,10,12,14,16,18,20,22,24,26,28,30,32,34,36,38,40,42,44,46,48,50,52,54,56,58,62,66,70,72,74,76,78,80,84,88,92,96,100,103,108,112,115,122,128,137,150,186,225];
const fmr1HighCensor = [4,8,12,16,20,24,27,30,34,36,38,42,46,50,54,60,64,68,72,75,78,88,92,96,100,118];
const trmt6LowT = [8.8,14.7,28.7,42.6,62.5,98.4,103.1,107.6,109.2,111.2,224.7];
const trmt6LowS = [.99,.952,.886,.829,.781,.762,.695,.625,.552,.476,.476];
const trmt6HighT = [8.8,20.7,30.7,36.6,50.6,70.5,72.5,109.2,150.2];
const trmt6HighS = [.962,.886,.819,.743,.714,.714,.686,.571,.571];
const trmt6LowCensor = [2,4,6,8,10,12,14,16,18,20,22,24,26,28,30,32,34,36,38,40,42,44,46,48,50,54,58,62,66,68,72,76,80,84,88,90,94,98,103,107,112,115,122,186,225];
const trmt6HighCensor = [3,6,9,12,15,18,20,22,24,26,28,30,32,34,36,40,44,48,52,56,60,64,68,72,76,80,84,88,92,96,100,107,113,120,128,135,150];
const nsun2RiskLow = [340,106,15,2,0];
const nsun2RiskHigh = [202,41,5,1,1];
const nsun4RiskLow = [236,78,9,1,0];
const nsun4RiskHigh = [306,69,11,2,1];
const fmr1RiskLow = [397,118,17,3,1];
const fmr1RiskHigh = [145,29,3,0,0];
const trmt6RiskLow = [309,98,13,2,1];
const trmt6RiskHigh = [233,49,7,1,0];

function drawKM(g, c) {
  const bx = c.left;
  const xS = t => bx + 7.6 + .8365 * t;
  const yS = s => 1203.3 - 175 * s;
  const frame = add(g, 'rect', {x: bx, y: 1021, width: 202.7, height: 189, fill: 'none', stroke: '#888', 'stroke-width': 1});
  
  
  kmTimeTicks.forEach(t => {
    const tk = add(g, 'line', {x1: xS(t), x2: xS(t), y1: 1210, y2: 1214, stroke: '#777'});
    
    
    const l = label(g, xS(t) + 1, 1220, String(t), 15.5);
    
    
  });
  kmProbTicks.forEach((s, i) => {
    const tk = add(g, 'line', {x1: bx - 4, x2: bx, y1: yS(s), y2: yS(s), stroke: '#777'});
    
    
    const l = label(g, bx - 14.4, yS(s), kmProbLabels[i], 15.5, {rot: -90});
    
    
  });
  function curve(T, S, cens, col, name) {
    let d = 'M' + xS(0) + ' ' + yS(1);
    T.forEach((t, i) => { d += ' H' + xS(t).toFixed(1) + ' V' + yS(S[i]).toFixed(1); });
    const p = add(g, 'path', {d: d, fill: 'none', stroke: col, 'stroke-width': .9});
    
    
    let m = '';
    cens.forEach(t => {
      let s = 1;
      T.forEach((tt, i) => { if (tt <= t) s = S[i]; });
      m += 'M' + xS(t).toFixed(1) + ' ' + (yS(s) - 2).toFixed(1) + 'v4';
    });
    const q = add(g, 'path', {d: m, fill: 'none', stroke: col, 'stroke-width': .9});
    
    
  }
  curve(c.lowT, c.lowS, c.lowC, '#3a3a3a', 'low');
  curve(c.highT, c.highS, c.highC, '#f23a3a', 'high');
  const title = label(g, bx + 111, 1003, c.gene, 15.8);
  
  
  const hr = label(g, bx + c.hrR, c.hrY, c.hr, 16, {anchor: 'end'});
  
  
  const lp = label(g, bx + 186, c.hrY + 14.3, c.logrank, 16, {anchor: 'end'});
  
  
  const yt = label(g, bx - 30, 1103, 'Probability', 15.6, {rot: -90});
  
  
  const lg = label(g, bx + 4.6, 1172, 'Expression', 16, {anchor: 'start'});
  
  
  const l1 = add(g, 'line', {x1: bx + 7.6, x2: bx + 24.4, y1: 1188.3, y2: 1188.3, stroke: '#555'});
  
  
  const l2 = add(g, 'line', {x1: bx + 7.6, x2: bx + 24.4, y1: 1199, y2: 1199, stroke: '#f23a3a'});
  
  
  const t1 = label(g, bx + 33, 1187, 'low', 16, {anchor: 'start'});
  
  
  const t2 = label(g, bx + 33, 1198, 'high', 16, {anchor: 'start'});
  
  
  const xt = label(g, bx + 119.3, 1234, 'Time (months)', 16);
  
  
  const nr = label(g, bx + 47.6, 1246.7, 'Number at risk', 16);
  
  
  const rl = label(g, bx - .7, 1258.3, 'low', 16, {anchor: 'end'});
  
  
  const rh = label(g, bx + 1.6, 1272.7, 'high', 16, {anchor: 'end', fill: '#ee1c1c'});
  
  
  kmTimeTicks.forEach((t, i) => {
    const x = xS(t) + 6 - t * .035;
    const a = label(g, x, 1258.3, String(c.riskLow[i]), 16);
    
    
    const b = label(g, x, 1272.7, String(c.riskHigh[i]), 16, {fill: '#ee1c1c'});
    
    
  });
}
(function () {
  const g = document.getElementById('panelE');
  drawKM(g, {gene: 'NSUN2', left: 56.7, hr: 'HR = 1.74 (1.15 \u2212 2.63)', logrank: 'logrank P = 0.0077', hrR: 201, hrY: 1030, lowT: nsun2LowT, lowS: nsun2LowS, highT: nsun2HighT, highS: nsun2HighS, lowC: nsun2LowCensor, highC: nsun2HighCensor, riskLow: nsun2RiskLow, riskHigh: nsun2RiskHigh});
  drawKM(g, {gene: 'NSUN4', left: 306.7, hr: 'HR = 1.52 (0.99 \u2212 2.33)', logrank: 'logrank P = 0.053', hrR: 201.5, hrY: 1031, lowT: nsun4LowT, lowS: nsun4LowS, highT: nsun4HighT, highS: nsun4HighS, lowC: nsun4LowCensor, highC: nsun4HighCensor, riskLow: nsun4RiskLow, riskHigh: nsun4RiskHigh});
  drawKM(g, {gene: 'FMR1', left: 556, hr: 'HR = 2.02 (1.32 \u2212 3.09)', logrank: 'logrank P = 0.001', hrR: 202, hrY: 1031, lowT: fmr1LowT, lowS: fmr1LowS, highT: fmr1HighT, highS: fmr1HighS, lowC: fmr1LowCensor, highC: fmr1HighCensor, riskLow: fmr1RiskLow, riskHigh: fmr1RiskHigh});
  drawKM(g, {gene: 'TRMT6', left: 806, hr: 'HR = 1.46 (0.97 \u2212 2.2)', logrank: 'logrank P = 0.071', hrR: 199.7, hrY: 1031, lowT: trmt6LowT, lowS: trmt6LowS, highT: trmt6HighT, highS: trmt6HighS, lowC: trmt6LowCensor, highC: trmt6HighCensor, riskLow: trmt6RiskLow, riskHigh: trmt6RiskHigh});
})();
</script>
</body>
</html>
